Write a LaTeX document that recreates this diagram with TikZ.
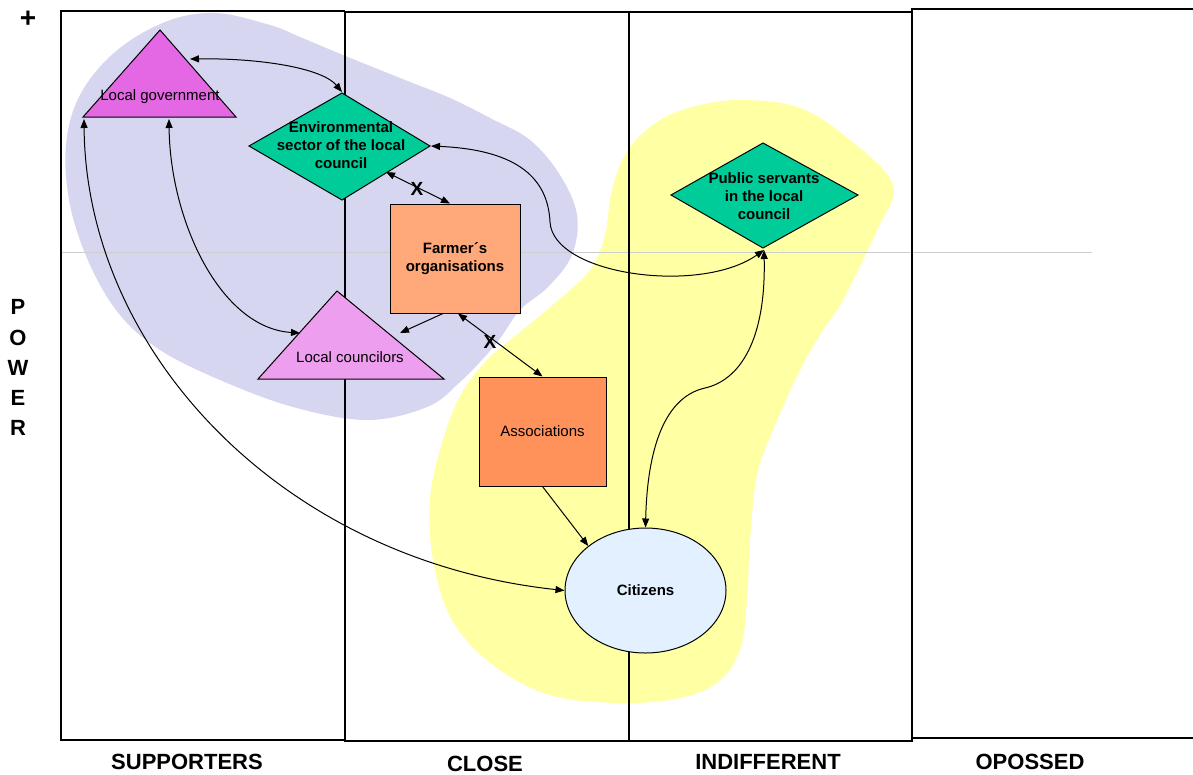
\documentclass[tikz,border=0pt]{standalone}
\usepackage{fontspec}
\setmainfont{Liberation Sans}
\usetikzlibrary{shapes.geometric,arrows.meta}
\definecolor{blobpurple}{RGB}{214,214,241}
\definecolor{blobyellow}{RGB}{255,255,163}
\definecolor{lgfill}{RGB}{228,104,228}
\definecolor{lcfill}{RGB}{238,158,238}
\definecolor{dgreen}{RGB}{0,204,153}
\definecolor{farmfill}{RGB}{255,168,122}
\definecolor{assocfill}{RGB}{255,145,90}
\definecolor{citfill}{RGB}{226,240,255}
\definecolor{gridgray}{RGB}{205,205,205}
\tikzset{
  nodefont/.style={font=\fontsize{15}{18}\selectfont},
  boldnode/.style={font=\fontsize{15}{18}\selectfont\bfseries},
  shapeline/.style={draw=black, line width=1pt},
  thinframe/.style={draw=black, line width=1.2pt},
  thickframe/.style={draw=black, line width=2.8pt},
  tip/.tip={Triangle[length=9pt,width=7pt]},
  onearrow/.style={-tip, line width=1pt},
  twoarrow/.style={tip-tip, line width=1pt},
  axislabel/.style={font=\fontsize{22}{24}\selectfont\bfseries},
  xmark/.style={font=\fontsize{19}{20}\selectfont\bfseries, inner sep=0pt}
}
\begin{document}
\begin{tikzpicture}[x=1pt,y=-1pt]
\useasboundingbox (0,0) rectangle (1193,774);
\fill[white] (0,0) rectangle (1193,774);
% blobs
\fill[blobpurple] plot[smooth cycle, tension=0.6] coordinates {
 (215,13) (270,25) (300,37) (343,55) (400,78) (450,98) (490,118) (530,140)
 (560,175) (577,215) (572,255) (548,287) (520,310) (495,345) (460,382)
 (427,407) (367,420) (293,407) (220,380) (160,350) (120,315) (90,265)
 (70,205) (66,145) (80,95) (115,52) (165,22)};
\fill[blobyellow] plot[smooth cycle, tension=0.6] coordinates {
 (745,100) (800,108) (850,140) (893,185) (877,230) (843,300) (823,330)
 (800,370) (773,430) (757,475) (750,540) (747,600) (740,650) (718,682)
 (680,698) (620,703) (550,695) (493,665) (452,620) (433,560) (430,500)
 (440,450) (458,400) (485,362) (520,332) (555,303) (590,270) (605,235)
 (612,190) (628,150) (660,120) (700,105)};
% power line
\draw[gridgray, line width=1pt] (61,252) -- (1092,252);
% frames
\draw[thinframe] (345,11) -- (61,11) -- (61,740) -- (345,740);
\draw[thickframe] (345,12) rectangle (912,741);
\draw[thinframe] (629,12) -- (629,741);
\draw[thickframe] (1200,9) -- (912,9) -- (912,738) -- (1200,738);
% axis labels
\node[font=\fontsize{28}{30}\selectfont\bfseries] (plus) at (28,19) {+};
\node[axislabel] (pP) at (18,307) {P};
\node[axislabel] (pO) at (18,338) {O};
\node[axislabel] (pW) at (18,368) {W};
\node[axislabel] (pE) at (18,398) {E};
\node[axislabel] (pR) at (18,428) {R};
\node[axislabel] (sup) at (187,762) {SUPPORTERS};
\node[axislabel] (clo) at (485,764) {CLOSE};
\node[axislabel] (ind) at (768,762) {INDIFFERENT};
\node[axislabel] (opp) at (1030,762) {OPOSSED};
% Local government triangle
\draw[shapeline, fill=lgfill] (160,30) -- (236,117) -- (83,117) -- cycle;
\node[nodefont, inner sep=0pt] (lgtext) at (160,97) {Local government};
% Environmental sector diamond
\draw[shapeline, fill=dgreen] (342,93) -- (430,146) -- (342,200) -- (249,146) -- cycle;
\node[boldnode, align=center, inner sep=0pt] (estext) at (341,145) {Environmental\\sector of the local\\council};
% Public servants diamond
\draw[shapeline, fill=dgreen] (763,143) -- (858,195) -- (763,248) -- (671,195) -- cycle;
\node[boldnode, align=center, inner sep=0pt] (pstext) at (764,196) {Public servants\\in the local\\council};
% Local councilors triangle
\draw[shapeline, fill=lcfill] (337,291) -- (444,379) -- (258,379) -- cycle;
\node[nodefont, inner sep=0pt] (lctext) at (350,357) {Local councilors};
% boxes
\node[shapeline, fill=farmfill, minimum width=130, minimum height=109, boldnode, align=center] (farm) at (455,258.5) {Farmer´s\\organisations};
\node[shapeline, fill=assocfill, minimum width=127, minimum height=109, nodefont] (assoc) at (542.5,431.5) {Associations};
\node[shapeline, fill=citfill, ellipse, minimum width=161, minimum height=125, boldnode] (cit) at (645.5,590.5) {Citizens};
% connection points
\coordinate (lgR) at (190,59);
\coordinate (lgBL) at (84,119);
\coordinate (lgB) at (169,119);
\coordinate (esT) at (342,92);
\coordinate (esR) at (431,146);
\coordinate (esBR) at (386,172);
\coordinate (lcL) at (300,333);
\coordinate (lcR) at (400,333);
\coordinate (psB) at (764,250);
\coordinate (bend1) at (550,222);
\coordinate (bend2) at (705,388);
% connectors
\draw[twoarrow] (lgR) .. controls (260,58) and (322,68) .. (esT);
\draw[twoarrow] (lgBL) .. controls (86,350) and (280,560) .. (cit.west);
\draw[twoarrow] (lgB) .. controls (170,220) and (220,328) .. (lcL);
\draw[twoarrow] (esR) .. controls (520,150) and (548,180) .. (bend1) .. controls (553,275) and (700,295) .. (psB);
\draw[twoarrow] (esBR) -- ([xshift=-5pt]farm.north);
\draw[onearrow] ([xshift=-12pt]farm.south) -- (lcR);
\draw[twoarrow] ([xshift=3pt]farm.south) -- (assoc.north);
\draw[onearrow] (assoc.south) -- (cit.north west);
\draw[twoarrow] (psB) .. controls (766,340) and (740,380) .. (bend2) .. controls (660,398) and (647,460) .. (cit.north);
% X marks
\node[xmark] (x1) at (417,189) {X};
\node[xmark] (x2) at (490,342) {X};
\end{tikzpicture}
\end{document}
